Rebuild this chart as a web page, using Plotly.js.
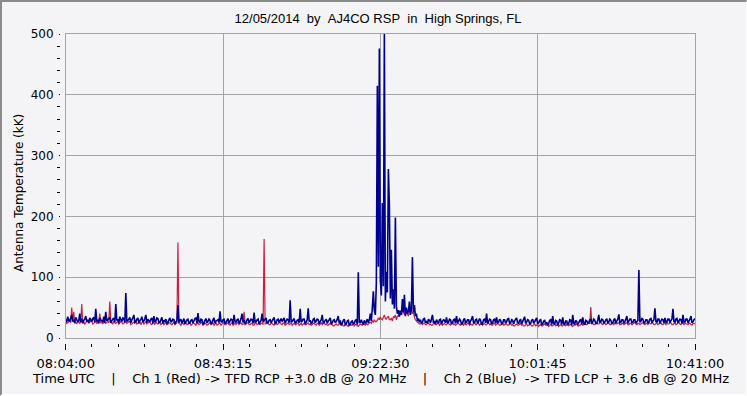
<!DOCTYPE html>
<html><head><meta charset="utf-8">
<script src="https://cdn.plot.ly/plotly-3.0.1.min.js"></script>
<style>
html,body{margin:0;padding:0;background:#F4F4F6;}
#wrap{position:relative;width:747px;height:396px;overflow:hidden;}
#chart{position:absolute;left:0;top:0;width:747px;height:396px;}
#frame{position:absolute;left:0;top:0;width:747px;height:396px;box-sizing:border-box;border-top:2px solid #8a8a8a;border-left:2px solid #8a8a8a;border-right:1px solid #ffffff;border-bottom:2px solid #ffffff;pointer-events:none;}
</style></head>
<body><div id="wrap"><div id="chart"></div><div id="frame"></div></div>
<script>
const titleText = '12/05/2014\u00A0\u00A0by\u00A0\u00A0AJ4CO RSP\u00A0\u00A0in\u00A0\u00A0High Springs, FL';
const yTitleText = 'Antenna Temperature (kK)';
const footerText = 'Time UTC\u00A0\u00A0\u00A0\u00A0|\u00A0\u00A0\u00A0\u00A0Ch 1 (Red) -&gt; TFD RCP +3.0 dB @ 20 MHz\u00A0\u00A0\u00A0\u00A0|\u00A0\u00A0\u00A0\u00A0Ch 2 (Blue)\u00A0\u00A0-&gt; TFD LCP + 3.6 dB @ 20 MHz';
const startTime = '2014-12-05 08:04:00';
const endTime = '2014-12-05 10:41:00';
const sampleSeconds = 15;
const tickTimes = ['2014-12-05 08:04:00','2014-12-05 08:43:15','2014-12-05 09:22:30','2014-12-05 10:01:45','2014-12-05 10:41:00'];
const tickLabels = ['08:04:00','08:43:15','09:22:30','10:01:45','10:41:00'];
const seriesNames = ['Ch 1 (Red)','Ch 2 (Blue)'];

// Ch 1 (Red) antenna temperature, kK, one value per 15 s
const redValues = [
27,24,25,27,29,25,50,28,43,24,26,23,28,26,24,27,56,25,27,23,
25,27,29,24,26,28,28,23,24,26,27,24,25,27,40,25,26,23,28,25,
24,26,27,25,60,27,25,23,28,25,24,26,27,23,25,27,26,23,24,26,
28,24,25,27,27,22,23,25,26,24,28,23,24,26,27,22,25,27,23,25,
27,23,24,26,26,23,22,25,25,22,27,24,23,25,26,22,24,25,22,24,
26,22,23,25,25,23,22,24,26,22,24,25,157,24,23,21,25,24,22,25,
25,22,23,24,26,21,22,25,24,23,21,24,25,22,23,25,26,21,22,24,
24,21,22,24,25,22,23,25,21,23,25,21,22,24,24,21,23,24,26,22,
22,25,24,22,21,24,25,21,23,25,22,24,26,22,24,25,22,23,43,22,
23,25,25,22,22,24,24,21,21,24,25,22,23,25,22,24,25,22,163,23,
23,25,25,22,22,24,24,22,21,24,25,22,23,25,26,23,22,25,24,21,
22,24,25,22,23,25,21,23,24,22,22,24,25,21,23,24,21,23,24,22,
22,24,25,22,23,21,22,24,24,22,21,24,24,21,23,25,22,24,25,22,
23,21,21,23,24,22,22,20,20,22,23,21,21,23,24,21,22,20,20,23,
22,20,19,22,23,21,21,23,20,22,22,20,19,21,23,22,21,23,22,21,
24,22,23,25,26,24,28,26,30,27,27,29,33,30,35,31,30,34,38,32,
31,34,36,30,30,33,28,35,34,38,30,36,36,40,40,38,46,44,38,42,
45,40,36,44,44,48,40,42,34,30,28,26,25,23,23,25,22,24,24,22,
22,24,25,22,23,21,21,24,24,22,22,24,25,21,23,24,21,23,24,22,
22,24,24,22,21,24,25,22,23,21,22,24,24,22,21,24,23,21,25,22,
22,24,24,21,23,22,21,24,25,22,22,25,24,21,23,24,21,23,24,22,
22,24,25,22,23,21,21,24,24,21,22,24,23,21,21,23,24,21,22,23,
23,21,21,23,24,21,22,20,20,22,23,21,21,23,24,21,22,20,20,22,
23,20,21,22,22,20,20,22,23,20,21,22,19,21,22,20,20,22,23,21,
21,22,19,21,22,20,20,22,23,20,21,22,19,21,22,20,20,22,21,20,
23,21,20,22,22,20,19,21,21,22,23,20,20,21,22,23,21,22,24,22,
22,24,26,23,51,25,24,22,22,24,25,23,23,25,26,23,22,25,24,22,
23,25,25,22,22,24,24,22,26,23,23,25,25,22,22,24,24,22,23,25,
25,22,22,24,24,22,23,25,26,23,22,24,24,22,23,25,25,23,22,24,
24,22,26,24,23,25,25,22,22,24,24,22,23,25,25,22,22,24,24,22,
26,23,23,25,25,22,22,24,24,22,23,25,26,23,22,24,24,22,25,23,
23,22,25,24,22,21,24,24,23
];

// Ch 2 (Blue) antenna temperature, kK, one value per 15 s
const blueValues = [
31,26,35,29,28,33,38,27,30,25,34,30,27,28,40,26,32,24,29,31,
36,27,30,25,33,30,27,32,34,26,48,28,29,24,33,30,28,27,35,25,
43,28,30,32,34,25,28,31,33,26,56,29,31,24,35,30,27,33,32,25,
74,27,29,31,34,25,30,33,38,26,27,31,33,24,29,30,35,26,28,32,
38,25,31,28,27,31,33,24,36,27,28,33,32,25,26,30,34,24,29,27,
31,24,25,30,33,26,28,31,30,23,26,29,54,25,29,31,24,28,32,23,
27,30,31,24,25,29,30,25,28,32,33,24,41,27,26,31,30,23,24,29,
32,25,27,31,29,23,25,30,33,24,28,29,30,25,44,27,26,30,31,24,
25,29,32,24,28,31,30,23,38,27,26,30,31,24,27,32,40,26,29,24,
25,30,32,25,28,31,30,24,42,26,27,30,31,23,26,29,40,27,29,31,
33,24,26,29,30,25,28,31,34,23,25,30,31,25,29,32,27,30,33,24,
28,31,30,25,62,27,27,30,32,24,26,29,30,25,48,26,28,31,31,23,
26,30,49,27,29,24,25,31,32,25,28,31,30,23,27,30,38,25,26,29,
31,24,28,30,33,23,25,29,30,25,27,31,36,24,29,21,24,29,31,22,
23,28,29,21,22,27,28,23,24,29,30,22,108,25,26,30,25,22,29,24,
27,31,25,30,40,28,50,77,45,38,90,415,117,476,95,70,222,85,505,60,
109,75,278,220,65,145,55,80,48,198,52,40,46,35,45,38,64,42,71,36,
50,40,44,60,38,48,133,42,54,36,40,28,32,26,30,24,26,31,32,25,
27,24,31,29,25,31,38,25,28,23,30,27,24,30,31,23,27,30,29,25,
34,25,26,31,30,23,25,30,31,24,36,26,27,31,29,23,24,30,32,25,
26,30,30,23,28,31,36,25,25,30,31,24,27,32,29,22,24,30,31,25,
40,24,27,31,30,23,25,30,31,24,34,25,26,31,29,23,24,30,30,24,
27,31,32,24,25,30,29,23,28,31,33,25,24,29,30,23,27,31,35,24,
26,30,29,23,24,29,31,24,27,30,33,23,25,29,30,22,23,28,29,23,
26,21,24,29,30,22,36,24,23,29,28,21,25,30,29,22,34,24,22,28,
28,22,24,30,29,21,38,24,23,29,27,22,25,29,30,23,34,24,22,29,
28,24,25,30,31,23,27,31,29,24,24,30,38,25,27,31,30,24,26,30,
31,24,27,31,29,23,25,30,32,24,28,31,39,25,26,30,30,24,27,31,
36,24,28,31,31,25,26,30,30,24,27,29,112,26,28,32,31,24,26,30,
30,24,27,31,32,25,28,30,49,27,26,31,31,24,28,31,30,25,33,26,
27,31,31,25,29,31,48,27,26,31,32,25,28,31,30,24,38,26,27,31,
31,25,28,31,36,25,27,30,32
];

const startMs = Date.parse(startTime.replace(' ', 'T') + 'Z');
function timesFor(values) {
  return values.map((v, i) => new Date(startMs + i * sampleSeconds * 1000).toISOString().slice(0, 19).replace('T', ' '));
}
const majorMs = (Date.parse(tickTimes[1].replace(' ', 'T') + 'Z') - startMs);
const minorMs = majorMs / 6;

const W = 747, H = 396;
const mL = 60, mR = 52, mT = 34, mB = 53;
const pw = W - mL - mR, ph = H - mT - mB;
const xDom = [5.7 / pw, 1];
const yDom = [5 / ph, 1];
const gridC = '#A4A4A4';

const data = [
  {type:'scatter', mode:'lines', name:seriesNames[0], x:timesFor(redValues), y:redValues,
   line:{color:'#C8203C', width:1.2, simplify:false}, hoverinfo:'skip', xaxis:'x', yaxis:'y'},
  {type:'scatter', mode:'lines', name:seriesNames[1], x:timesFor(blueValues), y:blueValues,
   line:{color:'#000090', width:1.6, simplify:false}, hoverinfo:'skip', xaxis:'x', yaxis:'y'},
  {type:'scatter', mode:'lines', x:[], y:[], xaxis:'x2', yaxis:'y', showlegend:false, hoverinfo:'skip'},
  {type:'scatter', mode:'lines', x:[], y:[], xaxis:'x', yaxis:'y2', showlegend:false, hoverinfo:'skip'}
];

const layout = {
  width: W, height: H,
  margin: {l: mL, r: mR, t: mT, b: mB, pad: 0},
  paper_bgcolor: '#F4F4F6', plot_bgcolor: '#F4F4F6',
  showlegend: false,
  title: {text: titleText, font: {family: 'Liberation Sans, Arial, sans-serif', size: 13, color: '#000'},
          x: 378 / W, xanchor: 'center', y: 1 - 18 / H, yanchor: 'middle', xref: 'container', yref: 'container'},
  xaxis: {type: 'date', domain: xDom, range: [startTime, endTime], tickmode: 'array', tickvals: tickTimes,
          showticklabels: false, ticks: '', showgrid: true, gridcolor: gridC, gridwidth: 1,
          showline: true, mirror: true, linecolor: gridC, linewidth: 1, zeroline: false},
  yaxis: {domain: yDom, range: [0, 500], tickmode: 'linear', tick0: 0, dtick: 100, showticklabels: false, ticks: '',
          showgrid: true, gridcolor: gridC, gridwidth: 1, showline: true, mirror: true, linecolor: gridC, linewidth: 1, zeroline: false},
  xaxis2: {type: 'date', overlaying: 'x', anchor: 'free', position: 0, side: 'bottom', domain: xDom,
           range: [startTime, endTime], tickmode: 'array', tickvals: tickTimes, ticktext: tickLabels,
           ticks: 'outside', ticklen: 6, tickwidth: 1, tickcolor: '#000', ticklabelstandoff: 2,
           tickfont: {family: 'DejaVu Sans, sans-serif', size: 13, color: '#000'},
           showgrid: false, showline: false, zeroline: false,
           minor: {tickmode: 'linear', tick0: startTime, dtick: minorMs, ticks: 'outside', ticklen: 3, tickwidth: 1, tickcolor: '#000', showgrid: false}},
  yaxis2: {overlaying: 'y', anchor: 'free', position: 0, side: 'left', domain: yDom, range: [0, 500],
           tickmode: 'linear', tick0: 0, dtick: 100, ticks: 'outside', ticklen: 1, tickwidth: 1, tickcolor: '#000',
           ticklabelstandoff: 3,
           tickfont: {family: 'DejaVu Sans, sans-serif', size: 12, color: '#000'},
           showgrid: false, showline: false, zeroline: false,
           minor: {tickmode: 'linear', tick0: 0, dtick: 20, ticks: 'outside', ticklen: 3, tickwidth: 1, tickcolor: '#000', showgrid: false}},
  annotations: [
    {text: yTitleText, xref: 'paper', yref: 'paper', x: (19 - mL) / pw, y: (mT + ph - 193) / ph, textangle: -90,
     showarrow: false, xanchor: 'center', yanchor: 'middle', font: {family: 'DejaVu Sans, sans-serif', size: 12, color: '#000'}},
    {text: footerText, xref: 'paper', yref: 'paper', x: (380 - mL) / pw, y: (mT + ph - 378) / ph,
     showarrow: false, xanchor: 'center', yanchor: 'middle', font: {family: 'DejaVu Sans, sans-serif', size: 13, color: '#000'}}
  ]
};

Plotly.newPlot('chart', data, layout, {staticPlot: true, displayModeBar: false});
</script>
</body></html>
